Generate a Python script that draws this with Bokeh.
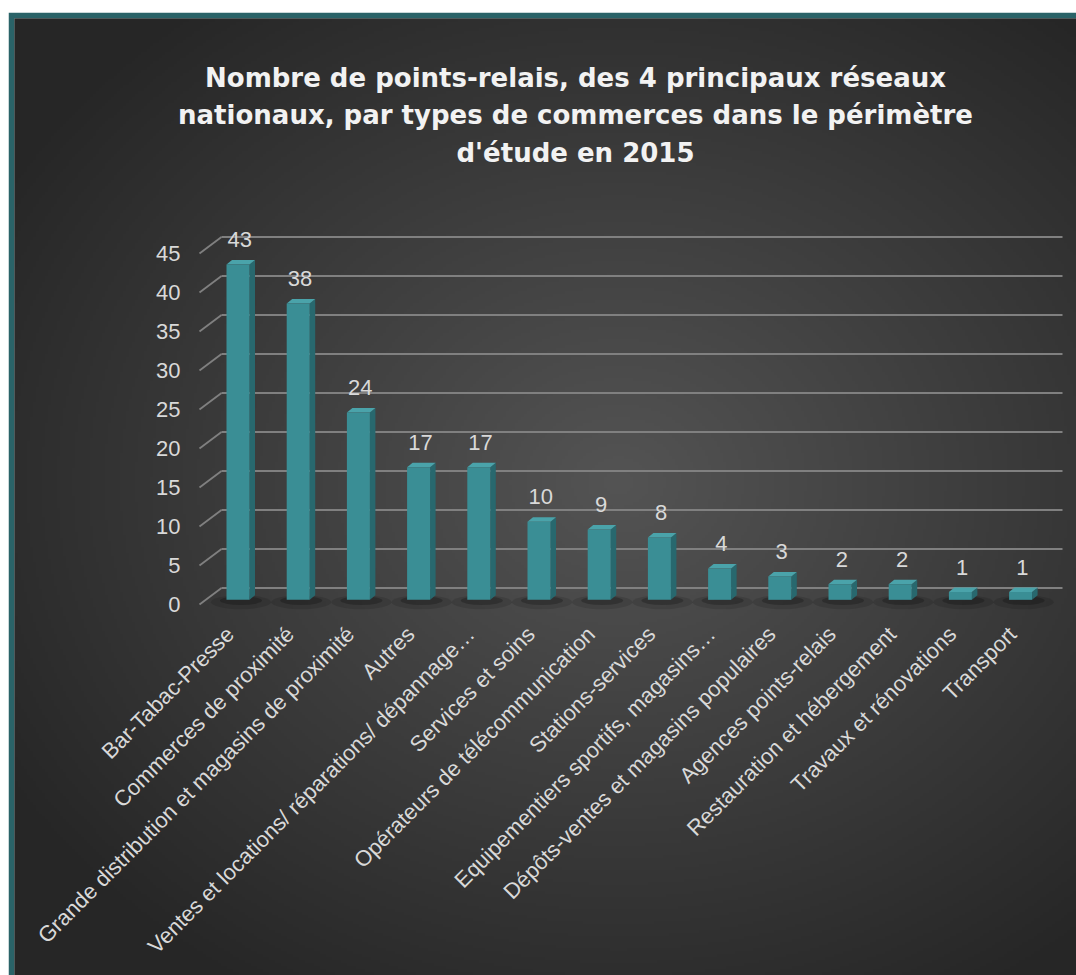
import numpy as np
from bokeh.plotting import figure
from bokeh.models import Range1d, Spacer
from bokeh.layouts import column, row
from bokeh.core.properties import value
from bokeh.embed import file_html
from bokeh.resources import INLINE

# ---------------- data ----------------
categories = [
    "Bar-Tabac-Presse",
    "Commerces de proximité",
    "Grande distribution et magasins de proximité",
    "Autres",
    "Ventes et locations/ réparations/ dépannage…",
    "Services et soins",
    "Opérateurs de télécommunication",
    "Stations-services",
    "Equipementiers sportifs, magasins…",
    "Dépôts-ventes et magasins populaires",
    "Agences points-relais",
    "Restauration et hébergement",
    "Travaux et rénovations",
    "Transport",
]
counts = [43, 38, 24, 17, 17, 10, 9, 8, 4, 3, 2, 2, 1, 1]
y_ticks = [0, 5, 10, 15, 20, 25, 30, 35, 40, 45]
y_tick_labels = [str(t) for t in y_ticks]
title_lines = [
    "Nombre de points-relais, des 4 principaux réseaux",
    "nationaux, par types de commerces dans le périmètre",
    "d'étude en 2015",
]

# ---------------- geometry / style ----------------
OFF_X, OFF_Y = 8, 12          # where the figure starts on the page
W, H = 1068, 963
BL, BT = 6, 6                 # teal border (left, top)
PX_X, PX_Y = 60.2, 7.8        # pixels per category / per unit
X0_PX, Y0_PX = 237.5, 604.0   # page position of x=0 / y=0 (front plane)
FRAME_L, FRAME_T = OFF_X + BL, OFF_Y + BT
FRAME_R, FRAME_B = OFF_X + W, OFF_Y + H

def xd(px):
    return (px - X0_PX) / PX_X

def yd(py):
    return (Y0_PX - py) / PX_Y

DEPTH_X, DEPTH_Y = 22 / PX_X, 16.5 / PX_Y     # back wall offset
BAR_HW = 11.5 / PX_X
BAR_DX, BAR_DY = 5.5 / PX_X, 4.5 / PX_Y
BAR_B0 = 0.6

BG_DARK = "#262626"
TEAL_BORDER = "#2a6368"
FRONT = "#3a8e95"
SIDE = "#28686e"
TOP = "#4aa3aa"
GRID = "#808080"
TXT = "#d9d9d9"

p = figure(width=W, height=H, output_backend="svg", toolbar_location=None,
           x_axis_location=None, y_axis_location=None,
           x_range=Range1d(xd(FRAME_L), xd(FRAME_R)),
           y_range=Range1d(yd(FRAME_B), yd(FRAME_T)),
           min_border_left=BL, min_border_top=BT,
           min_border_right=0, min_border_bottom=0,
           border_fill_color=TEAL_BORDER, background_fill_color=BG_DARK,
           outline_line_color=None)
p.grid.visible = False

# ---------------- background radial gradient ----------------
step = 3
nx = int((FRAME_R - FRAME_L) / step) + 1
ny = int((FRAME_B - FRAME_T) / step) + 1
pxs = FRAME_L + (np.arange(nx) + 0.5) * step
pys = FRAME_B - (np.arange(ny) + 0.5) * step       # row 0 = bottom
PX, PY = np.meshgrid(pxs, pys)
t = np.sqrt(((PX - 620) / 720.0) ** 2 + ((PY - 480) / 600.0) ** 2)
t = np.clip(t, 0, 1)
lev = (0x54 - (0x54 - 0x26) * t).astype(np.uint32)
img = ((255 << 24) | (lev << 16) | (lev << 8) | lev).astype(np.uint32)
p.image_rgba(image=[img], x=xd(FRAME_L), y=yd(FRAME_B),
             dw=xd(FRAME_R) - xd(FRAME_L), dh=yd(FRAME_T) - yd(FRAME_B))

# ---------------- walls / gridlines ----------------
front_left = xd(199)
back_left = front_left + DEPTH_X
back_right = xd(1062)
ticks = np.array(y_ticks, dtype=float)
p.segment(x0=[back_left] * len(ticks), x1=[back_right] * len(ticks),
          y0=ticks + DEPTH_Y, y1=ticks + DEPTH_Y,
          line_color=GRID, line_width=1.8)
p.segment(x0=[front_left] * len(ticks), x1=[back_left] * len(ticks),
          y0=ticks, y1=ticks + DEPTH_Y,
          line_color=GRID, line_width=1.8)

# tick labels
p.text(x=[xd(180)] * len(ticks), y=ticks, text=y_tick_labels,
       text_align="right", text_baseline="middle",
       text_font=value("Liberation Sans"), text_font_size="22px",
       text_color=TXT)

# ---------------- bars ----------------
idx = np.arange(len(counts), dtype=float)
vals = np.array(counts, dtype=float)

# shadows
p.ellipse(x=idx + 0.05, y=BAR_B0 - 0.3, width=1.0, height=1.8,
          fill_color="black", fill_alpha=0.12, line_color=None)
p.ellipse(x=idx + 0.05, y=BAR_B0 - 0.1, width=0.7, height=1.1,
          fill_color="black", fill_alpha=0.22, line_color=None)

side_xs = [[i + BAR_HW, i + BAR_HW + BAR_DX, i + BAR_HW + BAR_DX, i + BAR_HW] for i in idx]
side_ys = [[BAR_B0, BAR_B0 + BAR_DY, BAR_B0 + v + BAR_DY, BAR_B0 + v] for v in vals]
p.patches(xs=side_xs, ys=side_ys, fill_color=SIDE, line_color=None)

top_xs = [[i - BAR_HW, i + BAR_HW, i + BAR_HW + BAR_DX, i - BAR_HW + BAR_DX] for i in idx]
top_ys = [[BAR_B0 + v, BAR_B0 + v, BAR_B0 + v + BAR_DY, BAR_B0 + v + BAR_DY] for v in vals]
p.patches(xs=top_xs, ys=top_ys, fill_color=TOP, line_color=None)

p.quad(left=idx - BAR_HW, right=idx + BAR_HW, bottom=BAR_B0, top=BAR_B0 + vals,
       fill_color=FRONT, line_color=None)

# data labels
p.text(x=idx + 0.03, y=BAR_B0 + vals + 25 / PX_Y, text=[str(c) for c in counts],
       text_align="center", text_baseline="middle",
       text_font=value("Liberation Sans"), text_font_size="22px",
       text_color=TXT)

# category labels
p.text(x=idx - 8 / PX_X, y=[yd(630)] * len(categories), text=categories,
       angle=np.pi / 4, text_align="right", text_baseline="middle",
       text_font=value("Liberation Sans"), text_font_size="22px",
       text_color=TXT)

# ---------------- title ----------------
p.text(x=[xd(575)] * 3, y=[yd(77), yd(114.5), yd(152)], text=title_lines,
       text_align="center", text_baseline="middle",
       text_font=value("DejaVu Sans"), text_font_style="bold",
       text_font_size="26px", text_color="#f2f2f2")

layout = column(Spacer(height=OFF_Y), row(Spacer(width=OFF_X), p))
open("out.html", "w").write(file_html(layout, INLINE))
